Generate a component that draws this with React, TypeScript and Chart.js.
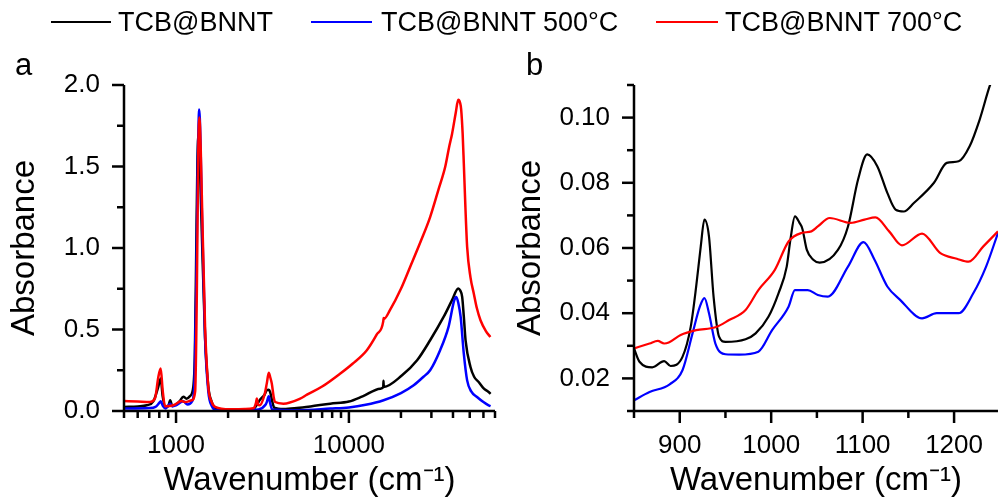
import React, { useEffect, useRef } from "react";
import { Chart, registerables } from "chart.js";
Chart.register(...registerables);

const FONT = "'Liberation Sans', Arial, Helvetica, sans-serif";

const seriesLabels = ["TCB@BNNT", "TCB@BNNT 500°C", "TCB@BNNT 700°C"];
const seriesColors = ["#000000", "#0000ff", "#ff0000"];

// ---- Panel a (log wavenumber axis) ----
const aBlackX = [500, 600, 677, 740, 790, 815, 837, 864, 900, 925, 950, 1000, 1050, 1102, 1150, 1200, 1259, 1285, 1306, 1329, 1350, 1375, 1409, 1472, 1537, 1610, 1700, 2054, 2500, 2800, 2900, 3066, 3250, 3348, 3440, 3500, 3600, 3700, 4200, 5000, 6000, 7800, 10000, 12000, 15200, 15800, 15850, 15900, 20300, 24800, 29500, 35300, 39500, 42900, 44000, 45200, 46200, 47300, 50500, 53000, 56300, 60000, 64300, 66000];
const aBlackY = [0.025, 0.028, 0.035, 0.06, 0.15, 0.2, 0.09, 0.03, 0.028, 0.066, 0.032, 0.04, 0.06, 0.088, 0.075, 0.09, 0.15, 0.35, 0.9, 1.52, 1.7, 1.5, 1.1, 0.45, 0.15, 0.055, 0.015, 0.005, 0.006, 0.01, 0.03, 0.07, 0.1, 0.127, 0.13, 0.117, 0.06, 0.02, 0.012, 0.018, 0.028, 0.045, 0.058, 0.09, 0.137, 0.145, 0.185, 0.148, 0.219, 0.311, 0.434, 0.577, 0.68, 0.752, 0.74, 0.7, 0.58, 0.434, 0.27, 0.21, 0.178, 0.14, 0.117, 0.105];

const aBlueX = [500, 700, 760, 800, 815, 840, 870, 925, 950, 1000, 1100, 1165, 1240, 1280, 1310, 1335, 1362, 1385, 1409, 1472, 1537, 1610, 1700, 2500, 3000, 3300, 3350, 3440, 3500, 3600, 5000, 7800, 10000, 12500, 15870, 20000, 23700, 27000, 29500, 33700, 37700, 40700, 41800, 43000, 44300, 46200, 48300, 51000, 55100, 60000, 64300, 66000];
const aBlueY = [0.015, 0.018, 0.025, 0.05, 0.06, 0.03, 0.016, 0.045, 0.028, 0.035, 0.06, 0.04, 0.06, 0.2, 0.8, 1.5, 1.85, 1.65, 1.25, 0.45, 0.12, 0.03, 0.005, 0.005, 0.01, 0.04, 0.055, 0.09, 0.05, 0.01, 0.005, 0.015, 0.022, 0.038, 0.066, 0.11, 0.158, 0.21, 0.25, 0.373, 0.516, 0.68, 0.7, 0.66, 0.577, 0.352, 0.188, 0.12, 0.086, 0.055, 0.035, 0.03];

const aRedX = [500, 600, 707, 756, 790, 815, 837, 864, 965, 1079, 1130, 1233, 1290, 1319, 1345, 1365, 1390, 1409, 1472, 1537, 1600, 1682, 2054, 2500, 2801, 2900, 2932, 2980, 3050, 3250, 3348, 3440, 3500, 3581, 3680, 3744, 4177, 5222, 5720, 7000, 8920, 10500, 12700, 14500, 15800, 15870, 15950, 17300, 20000, 22600, 26000, 29500, 33000, 36100, 38000, 39500, 41500, 42900, 44000, 44600, 45500, 46200, 47200, 48300, 50500, 52800, 55000, 57700, 62000, 65800];
const aRedY = [0.061, 0.058, 0.055, 0.078, 0.209, 0.26, 0.127, 0.029, 0.035, 0.061, 0.055, 0.066, 0.12, 0.72, 1.6, 1.8, 1.6, 1.33, 0.516, 0.147, 0.06, 0.025, 0.01, 0.012, 0.017, 0.05, 0.076, 0.04, 0.035, 0.1, 0.168, 0.235, 0.21, 0.168, 0.08, 0.055, 0.045, 0.076, 0.1, 0.15, 0.23, 0.29, 0.373, 0.47, 0.55, 0.57, 0.565, 0.62, 0.75, 0.884, 1.04, 1.19, 1.36, 1.5, 1.62, 1.7, 1.83, 1.91, 1.89, 1.85, 1.7, 1.52, 1.25, 1.007, 0.82, 0.72, 0.63, 0.557, 0.49, 0.454];

const aXMajor = [1000, 10000];
const aXMinor = [500, 600, 700, 800, 900, 2000, 3000, 4000, 5000, 6000, 7000, 8000, 9000, 20000, 30000, 40000, 50000, 60000, 70000];
const aYMajor = [0, 0.5, 1.0, 1.5, 2.0];
const aYMinor = [0.25, 0.75, 1.25, 1.75];

// ---- Panel b (zoom 850-1250 cm-1) ----
const bBlackX = [850, 856, 870, 883, 890, 903, 912, 918, 923, 927, 932, 937, 943, 950, 972, 983, 997, 1008, 1017, 1021, 1026, 1031, 1034, 1039, 1046, 1053, 1073, 1084, 1095, 1105, 1116, 1127, 1136, 1145, 1156, 1178, 1192, 1205, 1217, 1228, 1239, 1248];
const bBlackY = [0.0292, 0.0251, 0.0234, 0.0253, 0.0238, 0.0266, 0.0358, 0.0482, 0.0605, 0.0687, 0.0635, 0.0451, 0.0328, 0.0312, 0.032, 0.0338, 0.0389, 0.0461, 0.0543, 0.0625, 0.0697, 0.0677, 0.066, 0.0594, 0.0564, 0.0555, 0.0594, 0.0666, 0.081, 0.0887, 0.0851, 0.0769, 0.0718, 0.0712, 0.0738, 0.08, 0.0861, 0.0866, 0.0912, 0.0994, 0.1097, 0.116];

const bBlueX = [850, 867, 889, 903, 914, 922, 927, 932, 939, 950, 965, 986, 1001, 1019, 1026, 1040, 1051, 1062, 1084, 1101, 1113, 1127, 1141, 1165, 1181, 1205, 1221, 1235, 1248];
const bBlueY = [0.0133, 0.0158, 0.0182, 0.0225, 0.0338, 0.042, 0.0446, 0.04, 0.0307, 0.0274, 0.0273, 0.0282, 0.0348, 0.042, 0.0471, 0.0471, 0.0456, 0.0451, 0.0543, 0.0618, 0.0564, 0.0482, 0.0441, 0.0384, 0.04, 0.04, 0.0461, 0.0543, 0.0646];

const bRedX = [850, 867, 876, 883, 888, 901, 918, 939, 954, 972, 986, 1004, 1019, 1033, 1044, 1051, 1064, 1087, 1102, 1114, 1129, 1143, 1165, 1185, 1203, 1216, 1232, 1248];
const bRedY = [0.0292, 0.0307, 0.0315, 0.0307, 0.031, 0.0333, 0.0348, 0.0357, 0.0379, 0.041, 0.0471, 0.0533, 0.062, 0.0646, 0.0651, 0.0666, 0.0692, 0.0677, 0.0687, 0.0694, 0.0651, 0.0608, 0.0644, 0.0584, 0.0567, 0.0558, 0.0605, 0.0651];

const bXMajor = [900, 1000, 1100, 1200];
const bXMinor = [850, 950, 1050, 1150];
const bYMajor = [0.02, 0.04, 0.06, 0.08, 0.1];
const bYMinor = [0.01, 0.03, 0.05, 0.07, 0.09, 0.11];

const xTitle = "Wavenumber (cm\u207B\u00B9)";
const yTitle = "Absorbance";

const mk = (xs: number[], ys: number[]) => xs.map((x, i) => ({ x, y: ys[i] }));

const originTicks = {
  id: "originTicks",
  afterDraw(chart: any, _args: any, opts: any) {
    const { ctx, chartArea: ca, scales } = chart;
    const xs = scales.x;
    const ys = scales.y;
    ctx.save();
    ctx.strokeStyle = "#000";
    ctx.lineWidth = 2.5;
    ctx.lineJoin = "miter";
    ctx.beginPath();
    ctx.moveTo(ca.left, ca.top);
    ctx.lineTo(ca.left, ca.bottom);
    ctx.lineTo(ca.right, ca.bottom);
    ctx.stroke();
    const drawX = (vals: number[], len: number) => {
      vals.forEach((v) => {
        const p = xs.getPixelForValue(v);
        if (p < ca.left - 1 || p > ca.right + 1) return;
        ctx.beginPath();
        ctx.moveTo(p, ca.bottom);
        ctx.lineTo(p, ca.bottom + len);
        ctx.stroke();
      });
    };
    const drawY = (vals: number[], len: number) => {
      vals.forEach((v) => {
        const p = ys.getPixelForValue(v);
        if (p < ca.top - 1 || p > ca.bottom + 1) return;
        ctx.beginPath();
        ctx.moveTo(ca.left, p);
        ctx.lineTo(ca.left - len, p);
        ctx.stroke();
      });
    };
    drawX(opts.xMajor, 12);
    drawX(opts.xMinor, 7);
    drawY(opts.yMajor, 12);
    drawY(opts.yMinor, 7);
    ctx.restore();
  },
};

const tickFont = { family: FONT, size: 26 };
const titleFont = { family: FONT, size: 33 };

function makeConfig(p: {
  series: { x: number[]; y: number[]; color: string; order: number }[];
  xType: string;
  xMin: number;
  xMax: number;
  yMin: number;
  yMax: number;
  xMajor: number[];
  xMinor: number[];
  yMajor: number[];
  yMinor: number[];
  yDecimals: number;
  padRight: number;
  yTitlePad: number;
  lineWidth: number;
}): any {
  return {
    type: "line",
    data: {
      datasets: p.series.map((s) => ({
        data: mk(s.x, s.y),
        borderColor: s.color,
        backgroundColor: s.color,
        borderWidth: p.lineWidth,
        pointRadius: 0,
        fill: false,
        order: s.order,
        cubicInterpolationMode: "monotone",
      })),
    },
    options: {
      responsive: false,
      animation: false,
      events: [],
      layout: { padding: { top: 85, right: p.padRight, bottom: 0, left: 0 } },
      plugins: {
        legend: { display: false },
        tooltip: { enabled: false },
        originTicks: { xMajor: p.xMajor, xMinor: p.xMinor, yMajor: p.yMajor, yMinor: p.yMinor },
      },
      scales: {
        x: {
          type: p.xType,
          min: p.xMin,
          max: p.xMax,
          grid: { display: false, drawTicks: false },
          border: { display: false },
          afterBuildTicks: (s: any) => {
            s.ticks = p.xMajor.map((v) => ({ value: v }));
          },
          ticks: {
            autoSkip: false,
            maxRotation: 0,
            minRotation: 0,
            padding: 19,
            color: "#000",
            font: tickFont,
            callback: (v: any) => String(v),
          },
          title: { display: true, text: xTitle, color: "#000", font: titleFont, padding: { top: 0, bottom: 0 } },
          afterFit: (s: any) => {
            s.height = 90;
          },
        },
        y: {
          type: "linear",
          min: p.yMin,
          max: p.yMax,
          grid: { display: false, drawTicks: false },
          border: { display: false },
          afterBuildTicks: (s: any) => {
            s.ticks = p.yMajor.map((v) => ({ value: v }));
          },
          ticks: {
            autoSkip: false,
            padding: 24,
            color: "#000",
            font: tickFont,
            callback: (v: any) => Number(v).toFixed(p.yDecimals),
          },
          title: { display: true, text: yTitle, color: "#000", font: titleFont, padding: { top: p.yTitlePad, bottom: 0 } },
          afterFit: (s: any) => {
            s.width = 124;
          },
        },
      },
    },
    plugins: [originTicks],
  };
}

function ChartBox({ left, width, config }: { left: number; width: number; config: any }) {
  const ref = useRef<HTMLCanvasElement>(null);
  useEffect(() => {
    const chart = new Chart(ref.current as HTMLCanvasElement, config);
    return () => chart.destroy();
  }, []);
  return (
    <canvas
      ref={ref}
      width={width}
      height={501}
      style={{ position: "absolute", left, top: 0, width, height: 501 }}
    />
  );
}

const legendLines = [
  { x1: 51, x2: 111, tx: 118 },
  { x1: 311, x2: 372, tx: 381 },
  { x1: 656, x2: 718, tx: 725 },
];

export default function App() {
  const cfgA = makeConfig({
    series: [
      { x: aBlackX, y: aBlackY, color: seriesColors[0], order: 2 },
      { x: aBlueX, y: aBlueY, color: seriesColors[1], order: 1 },
      { x: aRedX, y: aRedY, color: seriesColors[2], order: 0 },
    ],
    xType: "logarithmic",
    xMin: 500,
    xMax: 70000,
    yMin: 0,
    yMax: 2,
    xMajor: aXMajor,
    xMinor: aXMinor,
    yMajor: aYMajor,
    yMinor: aYMinor,
    yDecimals: 1,
    padRight: 15,
    yTitlePad: 5,
    lineWidth: 2.5,
  });
  const cfgB = makeConfig({
    series: [
      { x: bBlackX, y: bBlackY, color: seriesColors[0], order: 2 },
      { x: bBlueX, y: bBlueY, color: seriesColors[1], order: 1 },
      { x: bRedX, y: bRedY, color: seriesColors[2], order: 0 },
    ],
    xType: "linear",
    xMin: 850,
    xMax: 1248,
    yMin: 0.01,
    yMax: 0.11,
    xMajor: bXMajor,
    xMinor: bXMinor,
    yMajor: bYMajor,
    yMinor: bYMinor,
    yDecimals: 2,
    padRight: 0,
    yTitlePad: 1.5,
    lineWidth: 2.2,
  });

  return (
    <div
      style={{
        position: "absolute",
        left: 0,
        top: 0,
        width: 1002,
        height: 501,
        overflow: "hidden",
        background: "#fff",
        fontFamily: FONT,
        color: "#000",
      }}
    >
      <ChartBox left={0} width={510} config={cfgA} />
      <ChartBox left={510} width={492} config={cfgB} />
      {seriesLabels.map((lab, i) => (
        <React.Fragment key={lab}>
          <div
            style={{
              position: "absolute",
              left: legendLines[i].x1,
              top: 20.5,
              width: legendLines[i].x2 - legendLines[i].x1,
              height: 2.5,
              background: seriesColors[i],
            }}
          />
          <div
            style={{
              position: "absolute",
              left: legendLines[i].tx,
              top: 9,
              fontSize: 27,
              lineHeight: "27px",
              whiteSpace: "nowrap",
            }}
          >
            {lab}
          </div>
        </React.Fragment>
      ))}
      <div style={{ position: "absolute", left: 15, top: 49, fontSize: 31, lineHeight: "31px" }}>a</div>
      <div style={{ position: "absolute", left: 526, top: 49, fontSize: 31, lineHeight: "31px" }}>b</div>
    </div>
  );
}
